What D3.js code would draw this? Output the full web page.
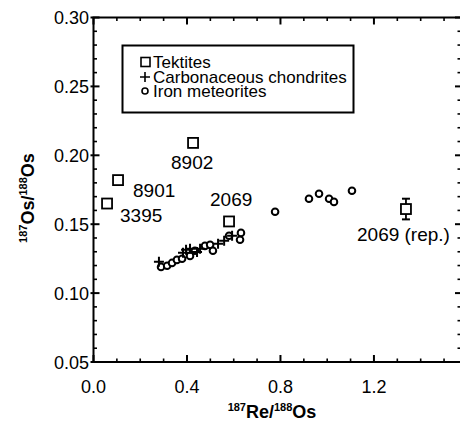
<!DOCTYPE html>
<html><head><meta charset="utf-8">
<script src="https://cdn.jsdelivr.net/npm/d3@7"></script>
<style>
body{margin:0;background:#fff;}
svg text{font-family:"Liberation Sans",Arial,Helvetica,sans-serif;fill:#000;}
</style></head>
<body><svg id="c" width="460" height="422"></svg>
<script>
// ---- data ----
const tektiteNames = ["3395","8901","8902","2069","2069 (rep.)"];
const tektiteX = [0.058,0.105,0.426,0.580,1.337];
const tektiteY = [0.165,0.182,0.209,0.152,0.161];
const tektiteErr = [0,0,0,0,0.0075];
const chondriteX = [0.280,0.383,0.396,0.413,0.443,0.456,0.533,0.559,0.593];
const chondriteY = [0.1227,0.1292,0.1314,0.1321,0.1299,0.1321,0.1358,0.1379,0.1416];
const ironX = [0.289,0.315,0.336,0.357,0.379,0.413,0.434,0.477,0.499,0.511,0.580,0.627,0.631,0.777,0.922,0.965,1.008,1.029,1.106];
const ironY = [0.1190,0.1198,0.1219,0.1241,0.1249,0.1270,0.1307,0.1343,0.1350,0.1307,0.1416,0.1387,0.1437,0.1590,0.1685,0.1721,0.1685,0.1662,0.1743];
const xTickLabels = ["0.0","0.4","0.8","1.2"];
const yTickLabels = ["0.05","0.10","0.15","0.20","0.25","0.30"];
const legendLabels = ["Tektites","Carbonaceous chondrites","Iron meteorites"];

// ---- layout ----
const svg = d3.select("#c");
const L=93.5, R=461, T=17.5, B=362;
const x = d3.scaleLinear().domain([0,(R-L)/233.7]).range([L,R]);
const y = d3.scaleLinear().domain([0.05,0.30]).range([B,T]);

const g = svg.append("g");
// frame
g.append("rect").attr("x",L).attr("y",T).attr("width",R-L).attr("height",B-T)
 .attr("fill","none").attr("stroke","#000").attr("stroke-width",2);

const xMinor = d3.range(0,1.6,0.1).filter(v=>x(v)<R-1);
const xMajor = xTickLabels.map(Number);
const yMinor = d3.range(0.05,0.3001,0.01);
const yMajor = yTickLabels.map(Number);
const tk = g.append("g").attr("stroke","#000");
function isMaj(arr,v){return arr.some(m=>Math.abs(m-v)<1e-6);}
xMinor.forEach(v=>{
  const len = isMaj(xMajor,v)?7:3.5, w=isMaj(xMajor,v)?2:1.6;
  tk.append("line").attr("x1",x(v)).attr("x2",x(v)).attr("y1",B).attr("y2",B-len).attr("stroke-width",w);
  tk.append("line").attr("x1",x(v)).attr("x2",x(v)).attr("y1",T).attr("y2",T+len).attr("stroke-width",w);
});
yMinor.forEach(v=>{
  const maj=isMaj(yMajor,v);
  const len = maj?6:3.5, w=maj?2:1.6;
  tk.append("line").attr("x1",maj?L-3:L).attr("x2",L+len).attr("y1",y(v)).attr("y2",y(v)).attr("stroke-width",w);
  tk.append("line").attr("x1",R).attr("x2",R-len).attr("y1",y(v)).attr("y2",y(v)).attr("stroke-width",w);
});
// tick labels
g.selectAll(".xl").data(xTickLabels).join("text")
 .attr("x",d=>x(+d)).attr("y",393).attr("text-anchor","middle").attr("font-size",18).text(d=>d);
g.selectAll(".yl").data(yTickLabels).join("text")
 .attr("x",89).attr("y",d=>y(+d)+6.5).attr("text-anchor","end").attr("font-size",18).text(d=>d);

// axis titles
function iso(sel, parts){
  parts.forEach(p=>{
    sel.append("tspan").attr("font-size",p[1]?11:18).attr("dy",p[1]?-7:7).text(p[0]);
  });
}
const xt = g.append("text").attr("x",272).attr("y",411).attr("text-anchor","middle").attr("font-weight","bold");
xt.append("tspan").attr("font-size",11).attr("dy",0).text("187");
xt.append("tspan").attr("font-size",18).attr("dy",7).text("Re/");
xt.append("tspan").attr("font-size",11).attr("dy",-7).text("188");
xt.append("tspan").attr("font-size",18).attr("dy",7).text("Os");
const yt = g.append("text").attr("transform","translate(34,198) rotate(-90)").attr("text-anchor","middle").attr("font-weight","bold");
yt.append("tspan").attr("font-size",11).attr("dy",-7).text("187");
yt.append("tspan").attr("font-size",18).attr("dy",7).text("Os/");
yt.append("tspan").attr("font-size",11).attr("dy",-7).text("188");
yt.append("tspan").attr("font-size",18).attr("dy",7).text("Os");

// marks
const marks = g.append("g").attr("fill","none").attr("stroke","#000").attr("stroke-width",1.8);
const tek = tektiteX.map((v,i)=>({x:v,y:tektiteY[i],e:tektiteErr[i],n:tektiteNames[i]}));
tek.filter(d=>d.e>0).forEach(d=>{
  marks.append("line").attr("x1",x(d.x)).attr("x2",x(d.x)).attr("y1",y(d.y+d.e)).attr("y2",y(d.y-d.e));
  [d.y+d.e,d.y-d.e].forEach(v=>marks.append("line").attr("x1",x(d.x)-4).attr("x2",x(d.x)+4).attr("y1",y(v)).attr("y2",y(v)).attr("stroke-width",2));
});
marks.selectAll(".sq").data(tek).join("rect")
 .attr("x",d=>x(d.x)-5).attr("y",d=>y(d.y)-5).attr("width",10).attr("height",10).attr("fill","#fff");
const iron = ironX.map((v,i)=>({x:v,y:ironY[i]}));
marks.selectAll(".ci").data(iron).join("circle")
 .attr("cx",d=>x(d.x)).attr("cy",d=>y(d.y)).attr("r",3.3).attr("fill","#fff").attr("stroke-width",2);
const chon = chondriteX.map((v,i)=>({x:v,y:chondriteY[i]}));
marks.selectAll(".pl").data(chon).join("path")
 .attr("d",d=>`M${x(d.x)-5},${y(d.y)}h10M${x(d.x)},${y(d.y)-5}v10`).attr("stroke-width",2);

// point labels
const labPos = {"3395":[120,222],"8901":[133,197],"8902":[171,169],"2069":[210,206],"2069 (rep.)":[357,241]};
g.selectAll(".tl").data(tek).join("text")
 .attr("x",d=>labPos[d.n][0]).attr("y",d=>labPos[d.n][1]).attr("font-size",19).text(d=>d.n);

// legend
const lg = g.append("g");
lg.append("rect").attr("x",122.5).attr("y",45.5).attr("width",231).attr("height",67)
 .attr("fill","#fff").attr("stroke","#000").attr("stroke-width",2);
const rows=[62,77,91];
lg.append("rect").attr("x",141).attr("y",rows[0]-4.5).attr("width",9).attr("height",9).attr("fill","none").attr("stroke","#000").attr("stroke-width",1.6);
lg.append("path").attr("d",`M140,${rows[1]}h10M145,${rows[1]-5}v10`).attr("stroke","#000").attr("stroke-width",1.6);
lg.append("circle").attr("cx",145).attr("cy",rows[2]).attr("r",3).attr("fill","none").attr("stroke","#000").attr("stroke-width",1.6);
lg.selectAll(".lt").data(legendLabels).join("text")
 .attr("x",153).attr("y",(d,i)=>rows[i]+6).attr("font-size",17).text(d=>d);
</script></body></html>
